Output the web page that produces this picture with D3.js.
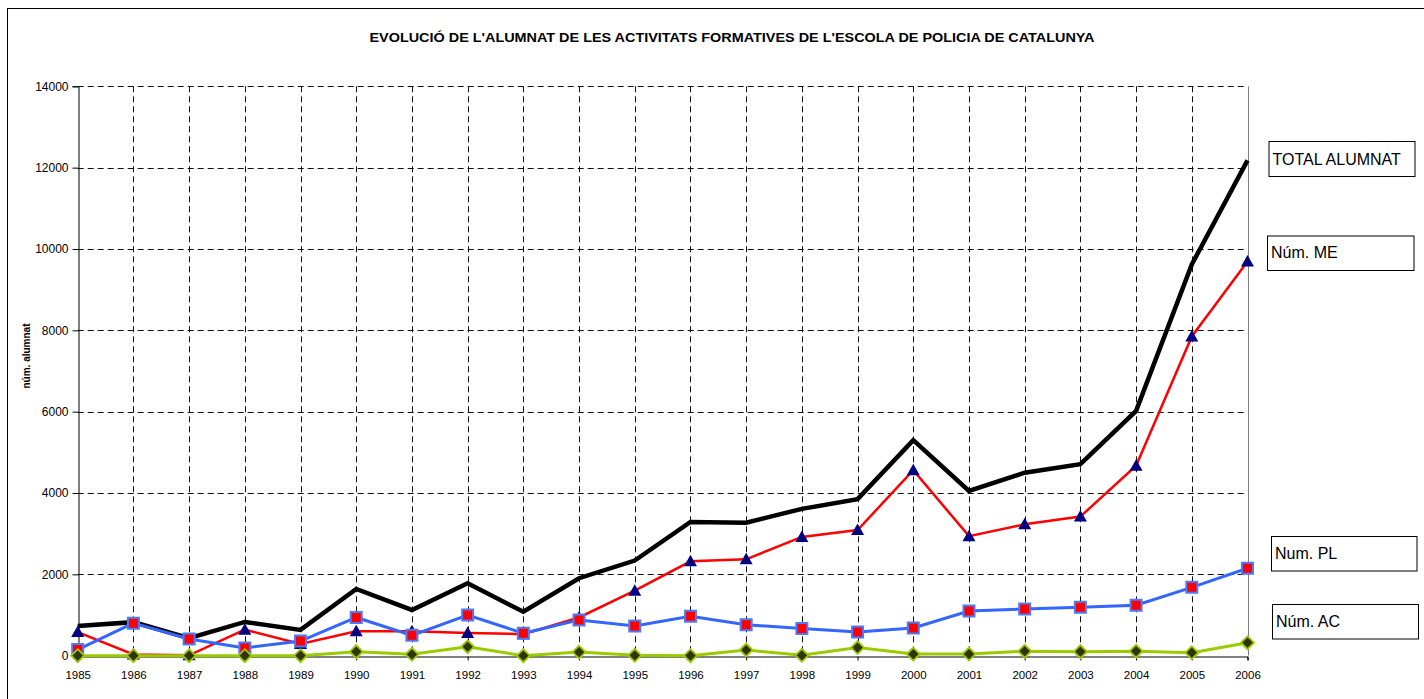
<!DOCTYPE html>
<html>
<head>
<meta charset="utf-8">
<script src="https://cdn.jsdelivr.net/npm/d3@7"></script>
<style>
  html, body { margin: 0; padding: 0; background: #fff; }
  svg { display: block; font-family: Arial, "Liberation Sans", sans-serif; }
</style>
</head>
<body>
<div id="chart"></div>
<script>
/* Evolució de l'alumnat — Escola de Policia de Catalunya (1985-2006) */
const years = [1985,1986,1987,1988,1989,1990,1991,1992,1993,1994,1995,1996,1997,1998,1999,2000,2001,2002,2003,2004,2005,2006];
const total = [730, 825, 430, 830, 635, 1640, 1125, 1780, 1080, 1905, 2340, 3290, 3270, 3610, 3850, 5300, 4050, 4500, 4710, 6020, 9620, 12180];
const numME = [580, 30, 10, 640, 290, 600, 600, 560, 530, 940, 1600, 2320, 2370, 2920, 3090, 4560, 2940, 3230, 3420, 4670, 7850, 9690];
const numPL = [150, 800, 410, 190, 360, 940, 500, 1000, 550, 880, 730, 970, 760, 670, 580, 680, 1100, 1150, 1190, 1240, 1680, 2150];
const numAC = [0, 0, 0, 0, 0, 100, 35, 220, 0, 90, 10, 0, 140, 10, 200, 40, 40, 110, 100, 110, 75, 320];
const yTicks = [0, 2000, 4000, 6000, 8000, 10000, 12000, 14000];
const legendLabels = ["TOTAL ALUMNAT", "Núm. ME", "Num. PL", "Núm. AC"];

const W = 1424, H = 699;
const svg = d3.select("#chart").append("svg").attr("width", W).attr("height", H);

// marc exterior
svg.append("rect").attr("x", 7.5).attr("y", 8.5).attr("width", W + 20).attr("height", H + 20)
  .attr("fill", "none").attr("stroke", "#000").attr("stroke-width", 1);

const x = d3.scalePoint().domain(years).range([77.7, 1247.5]).padding(0);
const y = d3.scaleLinear().domain([0, 14000]).range([655.7, 86.3]);
const L = 77.7, R = 1247.5, T = 86.3, B = 655.7;

// títol
svg.append("text")
  .attr("x", 732).attr("y", 42).attr("text-anchor", "middle")
  .attr("font-weight", "bold").attr("font-size", 13.5)
  .attr("textLength", 725).attr("lengthAdjust", "spacingAndGlyphs")
  .text("EVOLUCIÓ DE L'ALUMNAT DE LES ACTIVITATS FORMATIVES DE L'ESCOLA DE POLICIA DE CATALUNYA");

// graella
const grid = svg.append("g").attr("stroke", "#111").attr("stroke-width", 1).attr("stroke-dasharray", "6,4");
grid.selectAll("line.v").data(years.slice(1, -1)).join("line")
  .attr("x1", d => Math.round(x(d)) + 0.5).attr("x2", d => Math.round(x(d)) + 0.5)
  .attr("y1", T).attr("y2", B);
grid.selectAll("line.h").data(yTicks.slice(1)).join("line")
  .attr("x1", L).attr("x2", R)
  .attr("y1", d => Math.round(y(d)) + 0.5).attr("y2", d => Math.round(y(d)) + 0.5);

// vora dreta de l'àrea de traçat
svg.append("line").attr("x1", Math.round(R) + 0.5).attr("x2", Math.round(R) + 0.5).attr("y1", T).attr("y2", B)
  .attr("stroke", "#808080").attr("stroke-width", 1);

// eixos
const yAxis = svg.append("g").attr("transform", `translate(${Math.round(L) + 0.5},0)`)
  .call(d3.axisLeft(y).tickValues(yTicks).tickSize(6).tickPadding(4).tickFormat(d3.format("d")));
yAxis.select(".domain").attr("stroke", "#000");
yAxis.selectAll("text").attr("font-size", 12).attr("fill", "#000").attr("font-family", "Arial, 'Liberation Sans', sans-serif");

const xAxis = svg.append("g").attr("transform", `translate(0,${Math.round(B) + 0.5})`)
  .call(d3.axisBottom(x).tickSize(4).tickPadding(10).tickFormat(d3.format("d")));
xAxis.select(".domain").attr("stroke", "#000");
xAxis.selectAll("text").attr("font-size", 11.5).attr("fill", "#000").attr("font-family", "Arial, 'Liberation Sans', sans-serif");

// títol de l'eix
svg.append("text").attr("transform", "translate(29.5,356) rotate(-90)")
  .attr("text-anchor", "middle").attr("font-weight", "bold").attr("font-size", 10)
  .text("núm. alumnat");

// sèries
const line = d3.line().x((d, i) => x(years[i])).y(d => y(d));
const series = [
  { vals: total, color: "#000", w: 4.5, marker: null },
  { vals: numME, color: "#FF0000", w: 2.5, marker: "tri" },
  { vals: numPL, color: "#3366FF", w: 3, marker: "sq" },
  { vals: numAC, color: "#99CC00", w: 3, marker: "dia" }
];
const shapes = {
  tri: { d: "M0,-6.5L6.5,5L-6.5,5Z", fill: "#000080", stroke: "none", sw: 0 },
  sq:  { d: "M-5.5,-5.5H5.5V5.5H-5.5Z", fill: "#FF0000", stroke: "#4D7BFF", sw: 2 },
  dia: { d: "M0,-6.5L6.5,0L0,6.5L-6.5,0Z", fill: "#333300", stroke: "#99CC00", sw: 1.8 }
};
series.forEach(s => {
  svg.append("path").datum(s.vals).attr("d", line)
    .attr("fill", "none").attr("stroke", s.color).attr("stroke-width", s.w)
    .attr("stroke-linejoin", "miter");
  if (s.marker) {
    const sh = shapes[s.marker];
    svg.append("g").selectAll("path").data(s.vals).join("path")
      .attr("transform", (d, i) => `translate(${x(years[i])},${y(d)})`)
      .attr("d", sh.d).attr("fill", sh.fill).attr("stroke", sh.stroke).attr("stroke-width", sh.sw);
  }
});

// etiquetes de llegenda (caixes)
const boxes = [
  { x: 1269, y: 141.5, w: 146, h: 35, tx: 1272.5, ty: 164.5 },
  { x: 1267.5, y: 236, w: 146.5, h: 34.5, tx: 1271, ty: 257.7 },
  { x: 1271.5, y: 536.5, w: 145.5, h: 34.5, tx: 1275, ty: 559.3 },
  { x: 1272.5, y: 604.5, w: 146, h: 34.5, tx: 1276, ty: 626.7 }
];
const lg = svg.append("g").selectAll("g").data(legendLabels).join("g");
lg.append("rect")
  .attr("x", (d, i) => boxes[i].x).attr("y", (d, i) => boxes[i].y)
  .attr("width", (d, i) => boxes[i].w).attr("height", (d, i) => boxes[i].h)
  .attr("fill", "#fff").attr("stroke", "#000").attr("stroke-width", 1);
lg.append("text")
  .attr("x", (d, i) => boxes[i].tx).attr("y", (d, i) => boxes[i].ty)
  .attr("font-size", 16).text(d => d);
</script>
</body>
</html>
